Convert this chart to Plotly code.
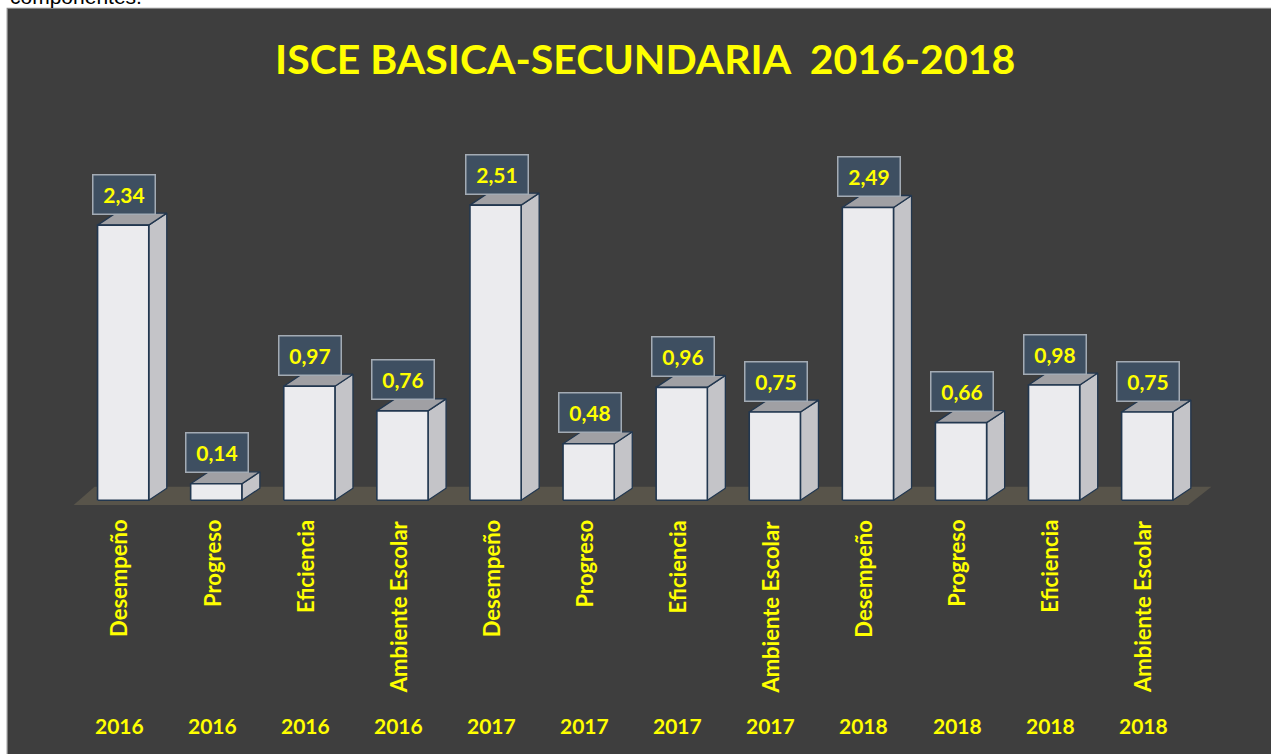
import plotly.graph_objects as go

# ---- data ----
categories = ["Desempeño", "Progreso", "Eficiencia", "Ambiente Escolar",
              "Desempeño", "Progreso", "Eficiencia", "Ambiente Escolar",
              "Desempeño", "Progreso", "Eficiencia", "Ambiente Escolar"]
years = ["2016", "2016", "2016", "2016",
         "2017", "2017", "2017", "2017",
         "2018", "2018", "2018", "2018"]
values = [2.34, 0.14, 0.97, 0.76, 2.51, 0.48, 0.96, 0.75, 2.49, 0.66, 0.98, 0.75]
title_text = "ISCE BASICA-SECUNDARIA&nbsp;&nbsp;2016-2018"

# ---- geometry / layout ----
W, H = 1271, 754
XR = [-0.7, 11.9]
YR = [-0.1, 3.2]
ML, MR, MT, MB = 58.3, 39.8, 123.5, 241.7
PW = W - ML - MR
PH = H - MT - MB
ppx = PW / (XR[1] - XR[0])
ppy = PH / (YR[1] - YR[0])

def px2paper_x(px):
    return (px - ML) / PW

def px2paper_y(py):
    return (H - MB - py) / PH

BW = 0.55               # bar width (category units)
DX = 18 / ppx           # depth offset x
DY = 12 / ppy           # depth offset y

FONT = "Lato"
YELLOW = "#ffff00"
EDGE = "#22374f"

fig = go.Figure()

# floor
fx0, fx1 = -0.5 - 0.032, 11.5 - 0.06
fig.add_trace(go.Scatter(
    x=[fx0, fx1, fx1 + 0.25, fx0 + 0.225, fx0],
    y=[-0.04, -0.04, 0.115, 0.115, -0.04],
    fill="toself", fillcolor="#58544a", mode="lines",
    line=dict(width=0), hoverinfo="skip", showlegend=False))

for i, v in enumerate(values):
    xl, xr = i - BW / 2, i + BW / 2
    # side face
    fig.add_trace(go.Scatter(
        x=[xr, xr + DX, xr + DX, xr, xr],
        y=[0, DY, v + DY, v, 0],
        fill="toself", fillcolor="#c4c4c8", mode="lines",
        line=dict(color=EDGE, width=1.3), hoverinfo="skip", showlegend=False))
    # top face
    fig.add_trace(go.Scatter(
        x=[xl, xl + DX, xr + DX, xr, xl],
        y=[v, v + DY, v + DY, v, v],
        fill="toself", fillcolor="#a0a0a4", mode="lines",
        line=dict(color=EDGE, width=1.3), hoverinfo="skip", showlegend=False))
    # front face
    fig.add_trace(go.Scatter(
        x=[xl, xr, xr, xl, xl],
        y=[0, 0, v, v, 0],
        fill="toself", fillcolor="#ebebee", mode="lines",
        line=dict(color=EDGE, width=1.6), hoverinfo="skip", showlegend=False))

annotations = []
for i, v in enumerate(values):
    annotations.append(dict(
        x=i, y=v, xref="x", yref="y", yshift=31, xshift=1,
        text="<b>" + f"{v:.2f}".replace(".", ",") + "</b>",
        showarrow=False, font=dict(family=FONT, size=21, color=YELLOW),
        bgcolor="rgba(62,80,100,0.92)", bordercolor="#a3abb4", borderwidth=1.5,
        borderpad=0, width=61, height=38, xanchor="center", yanchor="middle"))
    annotations.append(dict(
        x=i, y=0, xref="x", yref="y", yshift=-18, xshift=-4,
        text="<b>" + categories[i] + "</b>", textangle=-90,
        showarrow=False, font=dict(family=FONT, size=22, color=YELLOW),
        xanchor="center", yanchor="top"))
    annotations.append(dict(
        x=i, y=px2paper_y(726), xref="x", yref="paper", xshift=-4,
        text="<b>" + years[i] + "</b>",
        showarrow=False, font=dict(family=FONT, size=21, color=YELLOW),
        xanchor="center", yanchor="middle"))

annotations.append(dict(
    x=px2paper_x(645.5), y=px2paper_y(58), xref="paper", yref="paper",
    text="<b>" + title_text + "</b>", showarrow=False,
    font=dict(family=FONT, size=41, color=YELLOW),
    xanchor="center", yanchor="middle"))

annotations.append(dict(
    x=px2paper_x(8), y=px2paper_y(9), xref="paper", yref="paper",
    text="componentes.", showarrow=False,
    font=dict(family="Liberation Sans", size=21, color="#000000"),
    xanchor="left", yanchor="bottom"))

shapes = [dict(
    type="rect", xref="paper", yref="paper", layer="below",
    x0=px2paper_x(7.5), x1=px2paper_x(W + 2),
    y0=px2paper_y(H + 2), y1=px2paper_y(7.5),
    fillcolor="#3e3e3e", line=dict(color="#8c8c8c", width=1.2))]

fig.update_layout(
    width=W, height=H, autosize=False,
    margin=dict(l=ML, r=MR, t=MT, b=MB, pad=0),
    paper_bgcolor="#ffffff", plot_bgcolor="rgba(0,0,0,0)",
    xaxis=dict(range=XR, visible=False, fixedrange=True),
    yaxis=dict(range=YR, visible=False, fixedrange=True),
    annotations=annotations, shapes=shapes, showlegend=False)

fig.write_html("out.html",
               config={"displayModeBar": False},
               post_script="document.body.style.margin='0';document.body.style.padding='0';")
